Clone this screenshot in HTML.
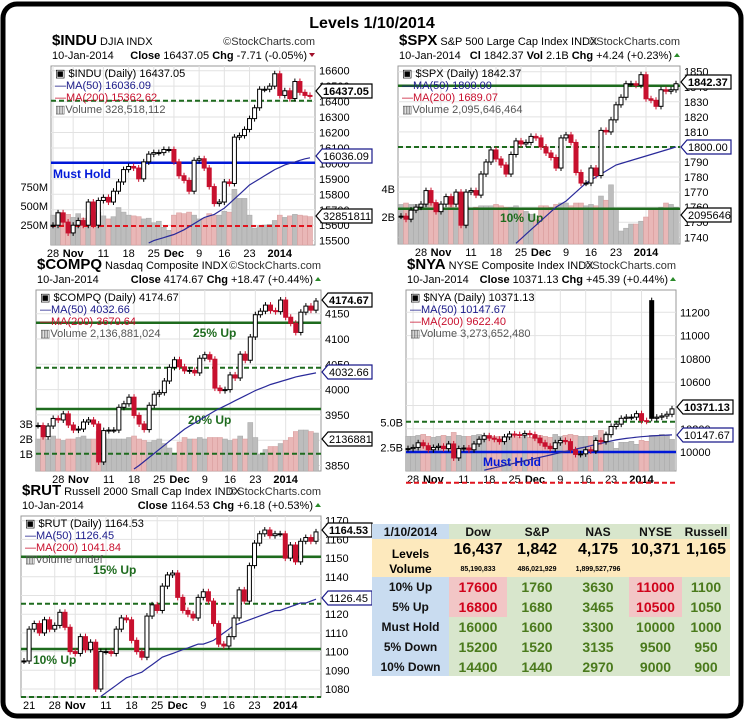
<!DOCTYPE html>
<html><head><meta charset="utf-8">
<style>
html,body{margin:0;padding:0;background:#fff;width:745px;height:722px;overflow:hidden}
body{font-family:"Liberation Sans",sans-serif;position:relative}
#tbl{position:absolute;left:372px;top:524px;border-collapse:collapse;font-family:"Liberation Sans",sans-serif;font-weight:bold}
#tbl td{padding:0;text-align:center;white-space:nowrap}
.lb{background:#c9dcf0;font-size:12px;color:#111}
.gr{background:#d8e6cc;color:#4a7a1c;font-size:14px}
.rd{background:#f2c6c6;color:#d0021b;font-size:14px}
.bg{background:#fde9bd}
</style></head><body>
<svg id="chart" width="745" height="722" style="position:absolute;left:0;top:0" xmlns="http://www.w3.org/2000/svg">
<rect x="3" y="4" width="738" height="712" rx="14" fill="none" stroke="#000" stroke-width="5"/>
<text x="372" y="28" text-anchor="middle" font-size="16" font-weight="bold" font-family="Liberation Sans">Levels 1/10/2014</text>
</svg>
<table id="tbl">
<tr style="height:15px"><td class="lb" style="width:77px">1/10/2014</td><td class="gr" style="width:58px;color:#111;font-size:12px">Dow</td><td class="gr" style="width:60px;color:#111;font-size:12px">S&amp;P</td><td class="gr" style="width:62px;color:#111;font-size:12px">NAS</td><td class="gr" style="width:53px;color:#111;font-size:12px">NYSE</td><td class="gr" style="width:48px;color:#111;font-size:12px">Russell</td></tr>
<tr class="bg" style="height:22px;font-size:16px"><td style="font-size:12px;vertical-align:bottom">Levels</td><td>16,437</td><td>1,842</td><td>4,175</td><td>10,371</td><td>1,165</td></tr>
<tr class="bg" style="height:16px;font-size:7px"><td style="font-size:12px">Volume</td><td>85,190,833</td><td>486,021,929</td><td>1,899,527,796</td><td></td><td></td></tr>
<tr style="height:20px"><td class="lb">10% Up</td><td class="rd">17600</td><td class="gr">1760</td><td class="gr">3630</td><td class="rd">11000</td><td class="gr">1100</td></tr>
<tr style="height:20px"><td class="lb">5% Up</td><td class="rd">16800</td><td class="gr">1680</td><td class="gr">3465</td><td class="rd">10500</td><td class="gr">1050</td></tr>
<tr style="height:20px"><td class="lb">Must Hold</td><td class="gr">16000</td><td class="gr">1600</td><td class="gr">3300</td><td class="gr">10000</td><td class="gr">1000</td></tr>
<tr style="height:20px"><td class="lb">5% Down</td><td class="gr">15200</td><td class="gr">1520</td><td class="gr">3135</td><td class="gr">9500</td><td class="gr">950</td></tr>
<tr style="height:19px"><td class="lb">10% Down</td><td class="gr">14400</td><td class="gr">1440</td><td class="gr">2970</td><td class="gr">9000</td><td class="gr">900</td></tr>
</table>
<script>
// ---------- DATA ----------
const induClose=[15600,15680,15620,15550,15600,15630,15600,15750,15600,15760,15780,15750,15820,15880,15960,15980,15970,15900,16010,16060,16070,16070,16090,16090,16010,15920,15890,15820,16020,16030,15970,15850,15740,15750,15880,15870,16170,16180,16220,16290,16360,16480,16480,16500,16580,16440,16470,16420,16530,16460,16440,16437];
const induVol=[380,420,410,390,350,400,340,330,380,420,370,330,360,480,420,380,370,360,330,340,280,300,220,180,380,410,400,420,380,330,340,400,380,380,430,420,720,600,600,380,210,240,250,260,310,380,350,370,390,380,370,360];
const induMA50=[15485,15500,15510,15520,15530,15540,15555,15570,15590,15610,15630,15650,15660,15670,15690,15710,15740,15770,15800,15830,15860,15880,15900,15920,15940,15960,15975,15990,16000,16010,16020,16030,16036];
const induTicks=[15500,15600,15700,15800,15900,16000,16100,16200,16300,16400,16500,16600];

const spxClose=[1754,1752,1758,1760,1762,1771,1763,1757,1762,1767,1762,1770,1748,1770,1771,1768,1782,1790,1798,1792,1788,1782,1795,1804,1802,1803,1807,1806,1800,1796,1793,1786,1806,1808,1803,1783,1776,1776,1786,1781,1811,1810,1818,1828,1833,1842,1842,1841,1848,1832,1831,1827,1838,1837,1838,1842];
const spxVol=[2.9,3.0,2.9,2.9,2.9,2.9,3.1,3.0,2.9,2.6,2.9,2.6,2.9,2.8,2.6,2.7,2.8,2.8,2.8,2.9,2.8,2.7,2.7,2.8,2.6,2.4,2.2,1.8,2.8,2.8,2.7,2.9,3.0,3.0,2.8,3.0,3.0,2.8,2.9,2.8,3.5,3.2,4.3,2.6,1.0,1.2,1.5,1.5,1.7,2.0,2.6,2.6,2.7,3.0,2.9,2.7];
const spxMA50=[1736,1739,1742,1745,1748,1751,1754,1757,1760,1762,1764,1767,1770,1773,1776,1778,1780,1782,1784,1786,1788,1789,1790,1791,1792,1793,1794,1795,1796,1797,1798,1799,1800];
const spxTicks=[1740,1750,1760,1770,1780,1790,1800,1810,1820,1830,1840,1850];

const compqClose=[3929,3907,3928,3943,3940,3952,3930,3920,3922,3936,3940,3932,3857,3919,3920,3920,3965,3972,3985,3949,3932,3921,3969,3991,3994,4017,4044,4059,4045,4037,4038,4033,4062,4069,4060,4003,3998,4000,4029,4023,4070,4058,4104,4148,4155,4167,4156,4154,4177,4143,4131,4113,4153,4165,4157,4175];
const compqVol=[2.0,2.1,2.0,2.2,2.0,1.9,2.0,2.0,2.1,2.2,2.0,2.0,2.5,2.1,2.0,2.0,2.0,2.0,2.1,2.2,2.0,1.9,1.8,1.9,2.0,1.7,1.4,1.0,1.8,2.1,2.0,2.0,2.1,2.0,2.1,2.1,2.1,2.0,1.9,2.0,2.2,2.0,3.1,2.1,1.0,1.3,1.5,1.5,1.7,1.9,2.1,2.5,2.6,2.6,2.5,2.4];
const compqMA50=[3843,3850,3858,3866,3874,3882,3890,3898,3906,3914,3922,3928,3934,3940,3946,3952,3958,3963,3968,3973,3978,3983,3988,3993,3998,4002,4006,4010,4013,4016,4019,4022,4025,4027,4029,4031,4033];
const compqTicks=[3850,3900,3950,4000,4050,4100,4150];

const nyaClose=[10030,10040,10080,10055,10020,10040,10050,10030,10070,9950,10030,10035,10020,10070,10110,10140,10120,10110,10090,10130,10155,10150,10145,10160,10150,10120,10080,10050,10030,10080,10100,10090,10020,9980,9985,10020,10010,10100,10090,10150,10220,10240,10290,10300,10300,10330,10270,10265,10290,10300,10310,10325,10371];
const nyaOpenOverride={48:11300};
const nyaVol=[3.6,3.6,3.7,3.8,3.6,3.5,3.6,3.7,3.6,4.0,3.7,3.6,3.6,3.7,3.8,3.7,3.7,3.6,3.6,3.6,3.7,3.8,3.5,3.6,3.5,3.6,3.7,3.6,3.5,3.8,3.6,3.7,3.8,3.7,3.6,3.6,3.6,3.7,4.2,3.9,3.0,2.4,3.0,3.0,3.1,2.8,3.2,3.1,3.7,3.7,3.8,3.7,3.3];
const nyaMA50=[9845,9855,9865,9875,9885,9895,9905,9915,9925,9935,9945,9955,9965,9975,9985,9995,10005,10015,10025,10035,10045,10055,10065,10075,10085,10095,10105,10112,10118,10123,10128,10132,10136,10139,10142,10144,10146,10148];
const nyaTicks=[10000,10200,10400,10600,10800,11000,11200];

const rutClose=[1095,1112,1115,1110,1117,1112,1114,1121,1113,1100,1099,1108,1101,1105,1080,1100,1100,1099,1112,1118,1117,1106,1100,1097,1119,1125,1122,1135,1141,1142,1129,1122,1120,1118,1129,1132,1127,1115,1104,1103,1108,1118,1133,1127,1146,1158,1163,1165,1162,1163,1163,1150,1157,1148,1159,1161,1159,1164];
const rutMA50=[1076,1078,1080,1082,1084,1086,1087,1088,1089,1091,1093,1095,1097,1098,1099,1100,1101,1102,1103,1104,1104,1105,1106,1108,1110,1112,1114,1115,1116,1117,1118,1119,1120,1121,1122,1122,1123,1124,1125,1126,1126,1127,1128];
const rutTicks=[1080,1090,1100,1110,1120,1130,1140,1150,1160,1170];

const weekLabels=["28","Nov","11","18","25","Dec","9","16","23","2014"];
const weekIdx=[0,4,10,15,20,24,29,34,39,45];

// ---------- RENDER ----------
const NS="http://www.w3.org/2000/svg";
const svg=document.getElementById('chart');
function mk(tag,attrs,parent){const e=document.createElementNS(NS,tag);for(const k in attrs)e.setAttribute(k,attrs[k]);(parent||svg).appendChild(e);return e;}
function txt(s,x,y,attrs,parent){const e=mk('text',Object.assign({x:x,y:y,'font-family':'Liberation Sans','font-size':11},attrs),parent);e.textContent=s;return e;}

function panel(c){
  const g=mk('g',{});
  
  
  const n=c.close.length;
  const y=v=>c.yRef+(c.vRef-v)*c.pxPer;
  const x=i=>c.first+i*(c.last-c.first)/(n-1);
  const t1=txt(c.sym,c.L+1,c.T-21,{'font-size':15,'font-weight':'bold'},g);
  
  
  const sw=t1.getComputedTextLength();
  txt(c.desc,c.L+4+sw,c.T-21,{'font-size':11},g);
  txt('©StockCharts.com',c.R,c.T-21,{'font-size':11,'text-anchor':'end',fill:'#333'},g);
  txt('10-Jan-2014',c.L+1,c.T-7,{'font-size':11},g);
  const info=txt('',c.R-8,c.T-7,{'font-size':11,'text-anchor':'end'},g);
  info.innerHTML=c.info;
  mk('path',{d:c.up?`M${c.R-6} ${c.T-9}l3 -4l3 4z`:`M${c.R-6} ${c.T-13}l3 4l3 -4z`,fill:c.up?'#2a8a2a':'#a0102a'},g);
  mk('rect',{x:c.L,y:c.T,width:c.R-c.L,height:c.B-c.T,fill:'#fff',stroke:'#999','stroke-width':1},g);
  c.ticks.forEach(v=>{const yy=y(v);if(yy<c.T-2||yy>c.B+2)return;
    mk('line',{x1:c.L,x2:c.R,y1:yy,y2:yy,stroke:'#e2e2e2'},g);
    txt(String(v),c.R+4,yy+4,{'font-size':11},g);});
  weekIdx.forEach((wi,k)=>{const xx=x(wi+c.off);if(xx<c.L||xx>c.R)return;
    mk('line',{x1:xx,x2:xx,y1:c.T,y2:c.B,stroke:'#e2e2e2'},g);
    txt(weekLabels[k],xx,c.B+12,{'font-size':11,'text-anchor':'middle','font-weight':(weekLabels[k].length>2?'bold':'normal')},g);});
  if(c.extraLabel){const xx=x(c.extraLabel[1]);txt(c.extraLabel[0],xx,c.B+12,{'font-size':11,'text-anchor':'middle'},g);}
  if(c.vol){const w=(c.last-c.first)/(n-1);
    c.vol.forEach((v,i)=>{const down=i>0&&c.close[i]<c.close[i-1];
      const top=c.v0-v*c.vPx;
      const b=mk('rect',{x:x(i)-w/2,y:top,width:w,height:c.B-top,fill:down?'#e9b7b7':'#bdbdbd',stroke:down?'#d79a9a':'#a8a8a8','stroke-width':0.5},g);
      
      });
    c.volTicks.forEach(t=>txt(t[0],c.L-3,c.v0-t[1]*c.vPx+4,{'font-size':11,'text-anchor':'end'},g));
  }
  c.lines.forEach(l=>{mk('line',{x1:c.L,x2:c.R,y1:l.y,y2:l.y,stroke:l.col,'stroke-width':l.w||2.5,'stroke-dasharray':l.dash?'5,3':'none'},g);});
  c.labels.forEach(l=>txt(l[0],l[1],l[2],{'font-size':12,'font-weight':'bold',fill:l[3]},g));
  const pts=c.ma.map((v,k)=>x(c.maStart+k).toFixed(1)+','+y(v).toFixed(1)).join(' ');
  const ma=mk('polyline',{points:pts,fill:'none',stroke:'#2a2a9a','stroke-width':1.2},g);
  
  
  c.close.forEach((cl,i)=>{
    let op=i>0?c.close[i-1]:cl;
    if(c.openOv&&c.openOv[i]!==undefined)op=c.openOv[i];
    const down=i>0&&cl<c.close[i-1];
    const col=down?'#c8102e':'#000';
    const y1=y(Math.max(op,cl)),y2=y(Math.min(op,cl));
    const xx=x(i);
    mk('line',{x1:xx,x2:xx,y1:y1-3,y2:y2+3,stroke:col,'stroke-width':1},g);
    const body=mk('rect',{x:xx-2,y:y1,width:4,height:Math.max(1,y2-y1),fill:(cl<op)?col:'#fff',stroke:col,'stroke-width':1},g);
    
    
  });
  txt('▣ '+c.sym+' (Daily) '+c.lastTxt,c.L+4,c.T+11,{'font-size':11},g);
  txt('—MA(50) '+c.ma50Txt,c.L+4,c.T+23,{'font-size':11,fill:'#1a1a8a'},g);
  txt('—MA(200) '+c.ma200Txt,c.L+4,c.T+35,{'font-size':11,fill:'#c8102e'},g);
  txt('▥Volume '+c.volTxt,c.L+4,c.T+47,{'font-size':11,fill:'#555'},g);
  c.tags.forEach(t=>{const yy=t.y;const w=t.w;
    mk('path',{d:`M${c.R+1} ${yy} l6 -7 h${w} v14 h-${w} z`,fill:'#fff',stroke:t.col,'stroke-width':1.2},g);
    txt(t.txt,c.R+8,yy+4,{'font-size':11,'font-weight':t.bold?'bold':'normal',fill:'#000'},g);});
}

panel({name:'indu',sym:'$INDU',desc:'DJIA INDX',L:51,R:315,T:66,B:245,first:53,last:310,off:0,
 close:induClose,vol:induVol,v0:244,vPx:0.076,volTicks:[['750M',750],['500M',500],['250M',250]],
 yRef:70.7,vRef:16600,pxPer:0.1545,ticks:induTicks,ma:induMA50,maStart:19,
 info:'<tspan font-weight="bold">Close</tspan> 16437.05  <tspan font-weight="bold">Chg</tspan> -7.71 (-0.05%)',up:false,
 lastTxt:'16437.05',ma50Txt:'16036.09',ma200Txt:'15362.62',volTxt:'328,518,112',
 lines:[{y:100.7,col:'#1e6b1e',dash:true,w:2},{y:162.7,col:'#0018d8',w:2.5},{y:226,col:'#e0141e',dash:true,w:2}],
 labels:[['Must Hold',53,178,'#0018d8']],
 tags:[{y:91,txt:'16437.05',col:'#000',w:50,bold:true},{y:156,txt:'16036.09',col:'#1a1a8a',w:50},{y:216,txt:'32851811',col:'#000',w:50}]});

panel({name:'spx',sym:'$SPX',desc:'S&P 500 Large Cap Index INDX',L:398,R:680,T:66,B:244,first:401,last:676,off:4,
 close:spxClose,vol:spxVol,v0:245,vPx:14,volTicks:[['4B',4],['2B',2]],
 yRef:71.7,vRef:1850,pxPer:1.505,ticks:spxTicks,ma:spxMA50,maStart:23,
 info:'<tspan font-weight="bold">Cl</tspan> 1842.37  <tspan font-weight="bold">Vol</tspan> 2.1B  <tspan font-weight="bold">Chg</tspan> +4.24 (+0.23%)',up:true,
 lastTxt:'1842.37',ma50Txt:'1800.00',ma200Txt:'1689.07',volTxt:'2,095,646,464',
 lines:[{y:85.7,col:'#1e6b1e',w:2.5},{y:147,col:'#1e6b1e',dash:true,w:2},{y:208.7,col:'#1e6b1e',w:2.5}],
 labels:[['10% Up',500,222,'#1e6b1e']],
 tags:[{y:82,txt:'1842.37',col:'#000',w:44,bold:true},{y:147,txt:'1800.00',col:'#1a1a8a',w:44},{y:215,txt:'2095646',col:'#000',w:44}]});

panel({name:'compq',sym:'$COMPQ',desc:'Nasdaq Composite INDX',L:36,R:321,T:290,B:471,first:38,last:316,off:4,
 close:compqClose,vol:compqVol,v0:469,vPx:15,volTicks:[['3B',3],['2B',2],['1B',1]],
 yRef:313.7,vRef:4150,pxPer:0.506,ticks:compqTicks,ma:compqMA50,maStart:19,
 info:'<tspan font-weight="bold">Close</tspan> 4174.67  <tspan font-weight="bold">Chg</tspan> +18.47 (+0.44%)',up:true,
 lastTxt:'4174.67',ma50Txt:'4032.66',ma200Txt:'3670.64',volTxt:'2,136,881,024',
 lines:[{y:322.7,col:'#1e6b1e',w:2.5},{y:367.7,col:'#1e6b1e',dash:true,w:2},{y:409,col:'#1e6b1e',w:2.5},{y:453.7,col:'#1e6b1e',dash:true,w:2}],
 labels:[['25% Up',193,337,'#1e6b1e'],['20% Up',188,424,'#1e6b1e']],
 tags:[{y:300,txt:'4174.67',col:'#000',w:44,bold:true},{y:372,txt:'4032.66',col:'#1a1a8a',w:44},{y:439,txt:'2136881',col:'#000',w:44}]});

panel({name:'nya',sym:'$NYA',desc:'NYSE Composite Index INDX',L:406,R:676,T:290,B:471,first:408,last:672,off:1,
 close:nyaClose,openOv:nyaOpenOverride,vol:nyaVol,v0:472,vPx:9.9,volTicks:[['5.0B',5],['2.5B',2.5]],
 yRef:312.3,vRef:11200,pxPer:0.1165,ticks:nyaTicks,ma:nyaMA50,maStart:15,
 info:'<tspan font-weight="bold">Close</tspan> 10371.13  <tspan font-weight="bold">Chg</tspan> +45.39 (+0.44%)',up:true,
 lastTxt:'10371.13',ma50Txt:'10147.67',ma200Txt:'9622.40',volTxt:'3,273,652,480',
 lines:[{y:421.7,col:'#1e6b1e',dash:true,w:2},{y:452,col:'#0018d8',w:2.5},{y:482.7,col:'#e0141e',dash:true,w:2}],
 labels:[['Must Hold',483,466,'#0018d8']],
 tags:[{y:407,txt:'10371.13',col:'#000',w:50,bold:true},{y:435,txt:'10147.67',col:'#1a1a8a',w:50}]});

panel({name:'rut',sym:'$RUT',desc:'Russell 2000 Small Cap Index INDX',L:21,R:321,T:516,B:697,first:24,last:316,off:6,
 close:rutClose,vol:null,extraLabel:['21',1],
 yRef:520.7,vRef:1170,pxPer:1.87,ticks:rutTicks,ma:rutMA50,maStart:15,
 info:'<tspan font-weight="bold">Close</tspan> 1164.53  <tspan font-weight="bold">Chg</tspan> +6.18 (+0.53%)',up:true,
 lastTxt:'1164.53',ma50Txt:'1126.45',ma200Txt:'1041.84',volTxt:'undef',
 lines:[{y:556.7,col:'#1e6b1e',w:2.5},{y:603.7,col:'#1e6b1e',dash:true,w:2},{y:649,col:'#1e6b1e',w:2.5},{y:697,col:'#1e6b1e',dash:true,w:2}],
 labels:[['15% Up',93,574,'#1e6b1e'],['10% Up',33,664,'#1e6b1e']],
 tags:[{y:530,txt:'1164.53',col:'#000',w:44,bold:true},{y:598,txt:'1126.45',col:'#1a1a8a',w:44}]});
</script>
</body></html>
